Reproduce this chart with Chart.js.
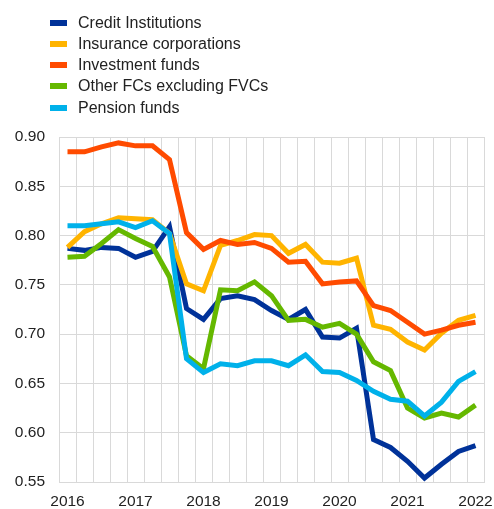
<!DOCTYPE html>
<html>
<head>
<meta charset="utf-8">
<script src="https://cdn.jsdelivr.net/npm/chart.js@4/dist/chart.umd.min.js"></script>
<style>
    html, body { margin: 0; padding: 0; background: #fff; }
    #wrap { position: relative; width: 494px; height: 509px; }
    #chart { position: absolute; left: 0; top: 0; }
    #legend { position: absolute; left: 50px; top: 12px; font-family: "Liberation Sans", Arial, sans-serif; font-size: 16px; color: #222; }
    .item { display: flex; align-items: center; height: 21.25px; white-space: nowrap; }
    .swatch { width: 17px; height: 6px; margin-right: 11px; }
</style>
</head>
<body>
<div id="wrap">
    <canvas id="chart" width="494" height="509"></canvas>
    <div id="legend"></div>
</div>
<script>
// quarterly observations, 2016 Q1 - 2022 Q1
const quarters = [
    '2016Q1', '2016Q2', '2016Q3', '2016Q4',
    '2017Q1', '2017Q2', '2017Q3', '2017Q4',
    '2018Q1', '2018Q2', '2018Q3', '2018Q4',
    '2019Q1', '2019Q2', '2019Q3', '2019Q4',
    '2020Q1', '2020Q2', '2020Q3', '2020Q4',
    '2021Q1', '2021Q2', '2021Q3', '2021Q4',
    '2022Q1'
];

const seriesNames = ['Credit Institutions', 'Insurance corporations', 'Investment funds', 'Other FCs excluding FVCs', 'Pension funds'];

const creditInstitutions = [0.787, 0.785, 0.788, 0.787, 0.778, 0.784, 0.809, 0.726, 0.715, 0.736, 0.739, 0.735, 0.724, 0.715, 0.725, 0.697, 0.696, 0.706, 0.593, 0.585, 0.571, 0.554, 0.568, 0.581, 0.587];
const insuranceCorps = [0.788, 0.804, 0.812, 0.818, 0.817, 0.816, 0.802, 0.751, 0.744, 0.790, 0.795, 0.801, 0.800, 0.782, 0.791, 0.773, 0.772, 0.777, 0.709, 0.705, 0.692, 0.684, 0.701, 0.714, 0.719];
const investmentFunds = [0.885, 0.885, 0.890, 0.894, 0.891, 0.891, 0.877, 0.803, 0.786, 0.795, 0.791, 0.793, 0.787, 0.773, 0.774, 0.751, 0.753, 0.754, 0.729, 0.724, 0.712, 0.700, 0.704, 0.709, 0.712];
const otherFCs = [0.778, 0.779, 0.792, 0.806, 0.797, 0.789, 0.758, 0.678, 0.665, 0.745, 0.744, 0.753, 0.739, 0.714, 0.715, 0.707, 0.711, 0.700, 0.672, 0.663, 0.625, 0.615, 0.620, 0.616, 0.628];
const pensionFunds = [0.810, 0.810, 0.812, 0.814, 0.808, 0.815, 0.802, 0.675, 0.661, 0.670, 0.668, 0.673, 0.673, 0.668, 0.679, 0.662, 0.661, 0.653, 0.642, 0.634, 0.632, 0.617, 0.631, 0.652, 0.662];

const colors = ['#003299', '#FFB400', '#FF4B00', '#65B800', '#00B1EA'];
const allSeries = [creditInstitutions, insuranceCorps, investmentFunds, otherFCs, pensionFunds];

const yTicks = [0.55, 0.60, 0.65, 0.70, 0.75, 0.80, 0.85, 0.90];

const datasets = allSeries.map(function(values, i) {
    return {
        label: seriesNames[i],
        data: values,
        borderColor: colors[i],
        backgroundColor: colors[i],
        borderWidth: 5,
        pointRadius: 0,
        tension: 0,
        fill: false,
        order: allSeries.length - i   // later series drawn on top
    };
});

const gridColor = '#d9d9d9';
const tickFont = { family: '"Liberation Sans", Arial, sans-serif', size: 15.5 };

new Chart(document.getElementById('chart').getContext('2d'), {
    type: 'line',
    data: {
        labels: quarters,
        datasets: datasets
    },
    options: {
        responsive: false,
        animation: false,
        layout: {
            padding: { top: 137, right: 10, left: 0, bottom: 0 }
        },
        plugins: {
            legend: { display: false },
            tooltip: { enabled: false }
        },
        scales: {
            x: {
                offset: true,
                grid: {
                    offset: true,
                    color: gridColor,
                    drawTicks: false
                },
                border: { color: gridColor },
                ticks: {
                    autoSkip: false,
                    maxRotation: 0,
                    color: '#222',
                    font: tickFont,
                    padding: 10,
                    callback: function(value, index) {
                        const q = quarters[index];
                        return q.endsWith('Q1') ? q.slice(0, 4) : '';
                    }
                },
                afterFit: function(scale) {
                    scale.height = 27;
                    scale.paddingLeft = 0;
                    scale.paddingRight = 0;
                }
            },
            y: {
                min: 0.55,
                max: 0.90,
                afterBuildTicks: function(scale) {
                    scale.ticks = yTicks.map(v => ({ value: v }));
                },
                grid: {
                    color: gridColor,
                    drawTicks: false
                },
                border: { color: gridColor },
                ticks: {
                    color: '#222',
                    font: tickFont,
                    padding: 14,
                    callback: function(value) { return value.toFixed(2); }
                },
                afterFit: function(scale) { scale.width = 59; }
            }
        }
    }
});

// legend, one entry per line
const legend = document.getElementById('legend');
seriesNames.forEach(function(name, i) {
    const row = document.createElement('div');
    row.className = 'item';
    const sw = document.createElement('span');
    sw.className = 'swatch';
    sw.style.background = colors[i];
    const txt = document.createElement('span');
    txt.textContent = name;
    row.appendChild(sw);
    row.appendChild(txt);
    legend.appendChild(row);
});
</script>
</body>
</html>
